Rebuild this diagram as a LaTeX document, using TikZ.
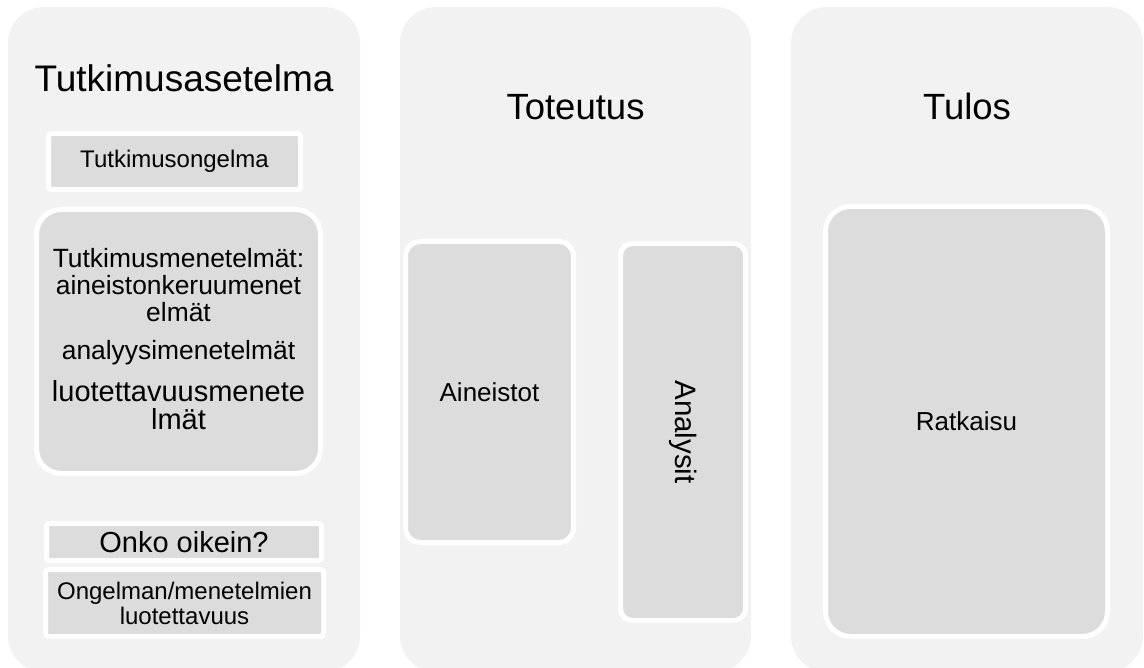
\documentclass[tikz,border=0pt]{standalone}
\usepackage{fontspec}
\setmainfont{Liberation Sans}
\definecolor{panelgray}{HTML}{F2F2F2}
\definecolor{boxgray}{HTML}{DCDCDC}
\begin{document}
\begin{tikzpicture}[x=1pt,y=-1pt,
  panel/.style={fill=panelgray, draw=none, rounded corners=36pt,
    inner sep=0pt, outer sep=0pt, anchor=north west},
  card/.style={fill=boxgray, draw=white, line width=5pt, inner sep=0pt,
    outer sep=0pt, align=center},
  title/.style={anchor=base, font=\fontsize{37}{40}\selectfont},
]
\useasboundingbox (0,0) rectangle (1144,668);
\clip (0,0) rectangle (1144,668);

% three column panels
\node[panel, minimum width=352pt, minimum height=665pt] (colA) at (8,7) {};
\node[panel, minimum width=351pt, minimum height=665pt] (colB) at (400,7) {};
\node[panel, minimum width=352pt, minimum height=665pt] (colC) at (791,7) {};

% column headings
\node[title] (hA) at (184,92) {Tutkimusasetelma};
\node[title, font=\fontsize{36.5}{40}\selectfont] (hB) at (575.5,120) {Toteutus};
\node[title, font=\fontsize{36.5}{40}\selectfont] (hC) at (967,120) {Tulos};

% research design column
\node[card, rounded corners=3pt, minimum width=252pt, minimum height=56pt,
  font=\fontsize{24}{26}\selectfont] (problem) at (174.5,161.5) {Tutkimusongelma};

\node[card, rounded corners=25pt, minimum width=284pt, minimum height=264pt]
  (methods) at (178.5,341.5) {};
\node[text width=284pt, align=center, inner sep=0pt, outer sep=0pt]
  (methodstext) at (178.5,339.4) {\hyphenpenalty=10000\parskip=0pt
  \fontsize{26.4}{27}\selectfont Tutkimusmenetelmät:\\aineistonkeruumenet\\elmät\par
  \vspace{11pt}analyysimenetelmät\par
  \vspace{14pt}\fontsize{29}{28}\selectfont luotettavuusmenete\\lmät\par};

\node[card, rounded corners=3pt, minimum width=275pt, minimum height=37pt,
  font=\fontsize{29}{30}\selectfont] (check) at (184,542) {Onko oikein?};
\node[card, rounded corners=3pt, minimum width=278pt, minimum height=67pt,
  font=\fontsize{24}{25}\selectfont] (reliab) at (184.5,603)
  {Ongelman/menetelmien\\luotettavuus};

% implementation column
\node[card, rounded corners=15pt, minimum width=168pt, minimum height=301pt,
  font=\fontsize{26}{28}\selectfont] (data) at (489.5,392) {Aineistot};
\node[card, rounded corners=12pt, minimum width=125pt, minimum height=377pt]
  (analyses) at (683,432) {};
\node[rotate=-90, font=\fontsize{29.5}{30}\selectfont, inner sep=0pt]
  (analysestext) at (analyses.center) {Analysit};

% result column
\node[card, rounded corners=25pt, minimum width=282pt, minimum height=430pt,
  font=\fontsize{26}{28}\selectfont] (solution) at (966.5,421.5) {Ratkaisu};
\end{tikzpicture}
\end{document}
